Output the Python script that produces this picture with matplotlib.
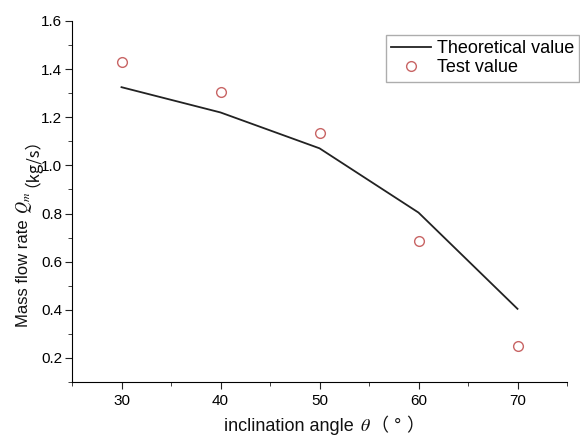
import matplotlib
matplotlib.use("Agg")
import matplotlib.pyplot as plt
from matplotlib.ticker import MultipleLocator

plt.rcParams['font.family'] = ['Liberation Sans', 'Noto Sans CJK SC', 'DejaVu Sans']
plt.rcParams['mathtext.fontset'] = 'stix'

W, H = 580, 437

angles = [30, 40, 50, 60, 70]
theory = [1.325, 1.22, 1.071, 0.804, 0.404]
test = [1.429, 1.304, 1.133, 0.687, 0.25]

fig = plt.figure(figsize=(W / 100, H / 100), dpi=100)
ax = fig.add_axes([72 / W, 1 - 382 / H, 495 / W, 361 / H])

ax.plot(angles, theory, color='#222222', lw=1.3, label='Theoretical value')
ax.plot(angles, test, 'o', mfc='none', mec='#c86464', mew=1.0, ms=7,
        label='Test value')

ax.set_xlim(25, 75)
ax.set_ylim(0.1, 1.6)
ax.xaxis.set_major_locator(MultipleLocator(10))
ax.xaxis.set_minor_locator(MultipleLocator(5))
ax.yaxis.set_minor_locator(MultipleLocator(0.1))
ax.set_yticks([0.2, 0.4, 0.6, 0.8, 1.0, 1.2, 1.4, 1.6])
ax.spines['top'].set_visible(False)
ax.spines['right'].set_visible(False)
ax.tick_params(which='both', direction='out', labelsize=11, color='#222222')
ax.tick_params(which='major', length=5)
ax.tick_params(which='minor', length=3)
ax.tick_params(axis='y', pad=2)


def piece_label(pieces, xc, yc, vertical, size):
    # pieces: (text, family, gap_px_before); xc, yc in pixels from top-left
    texts = []
    for s, fam, gap in pieces:
        t = fig.text(0, 0, s, fontsize=size, family=fam,
                     rotation=90 if vertical else 0, rotation_mode='anchor',
                     ha='left', va='baseline', color='#111111')
        texts.append((t, gap))
    fig.canvas.draw()
    r = fig.canvas.get_renderer()
    sizes = []
    for t, gap in texts:
        bb = t.get_window_extent(r)
        sizes.append(gap + (bb.height if vertical else bb.width))
    total = sum(sizes)
    cum = -total / 2
    for (t, gap), sz in zip(texts, sizes):
        cum += gap
        if vertical:
            t.set_position((xc / W, (H - yc + cum) / H))
        else:
            t.set_position(((xc + cum) / W, (H - yc) / H))
        cum += sz - gap


cjk = ['Noto Sans CJK SC']
lib = ['Liberation Sans']
piece_label([('Mass flow rate', lib, 0),
             ('$Q_m$', lib, 5),
             ('（kg/s）', cjk, 5)],
            28, 224, vertical=True, size=12)
piece_label([('inclination angle', lib, 0),
             (r'$\theta$', lib, 6),
             ('（', cjk, 0),
             ('°', lib, 5),
             ('）', cjk, 5)],
            324, 431, vertical=False, size=13)

leg = fig.legend(loc='upper left', bbox_to_anchor=(386 / W, 1 - 35 / H),
                 borderaxespad=0, fontsize=13, frameon=True, fancybox=False,
                 edgecolor='#999999', handlelength=2.2, borderpad=0.3,
                 labelspacing=0.1, handletextpad=0.3)
leg.get_frame().set_linewidth(1.0)

fig.savefig('out.png', dpi=100)
